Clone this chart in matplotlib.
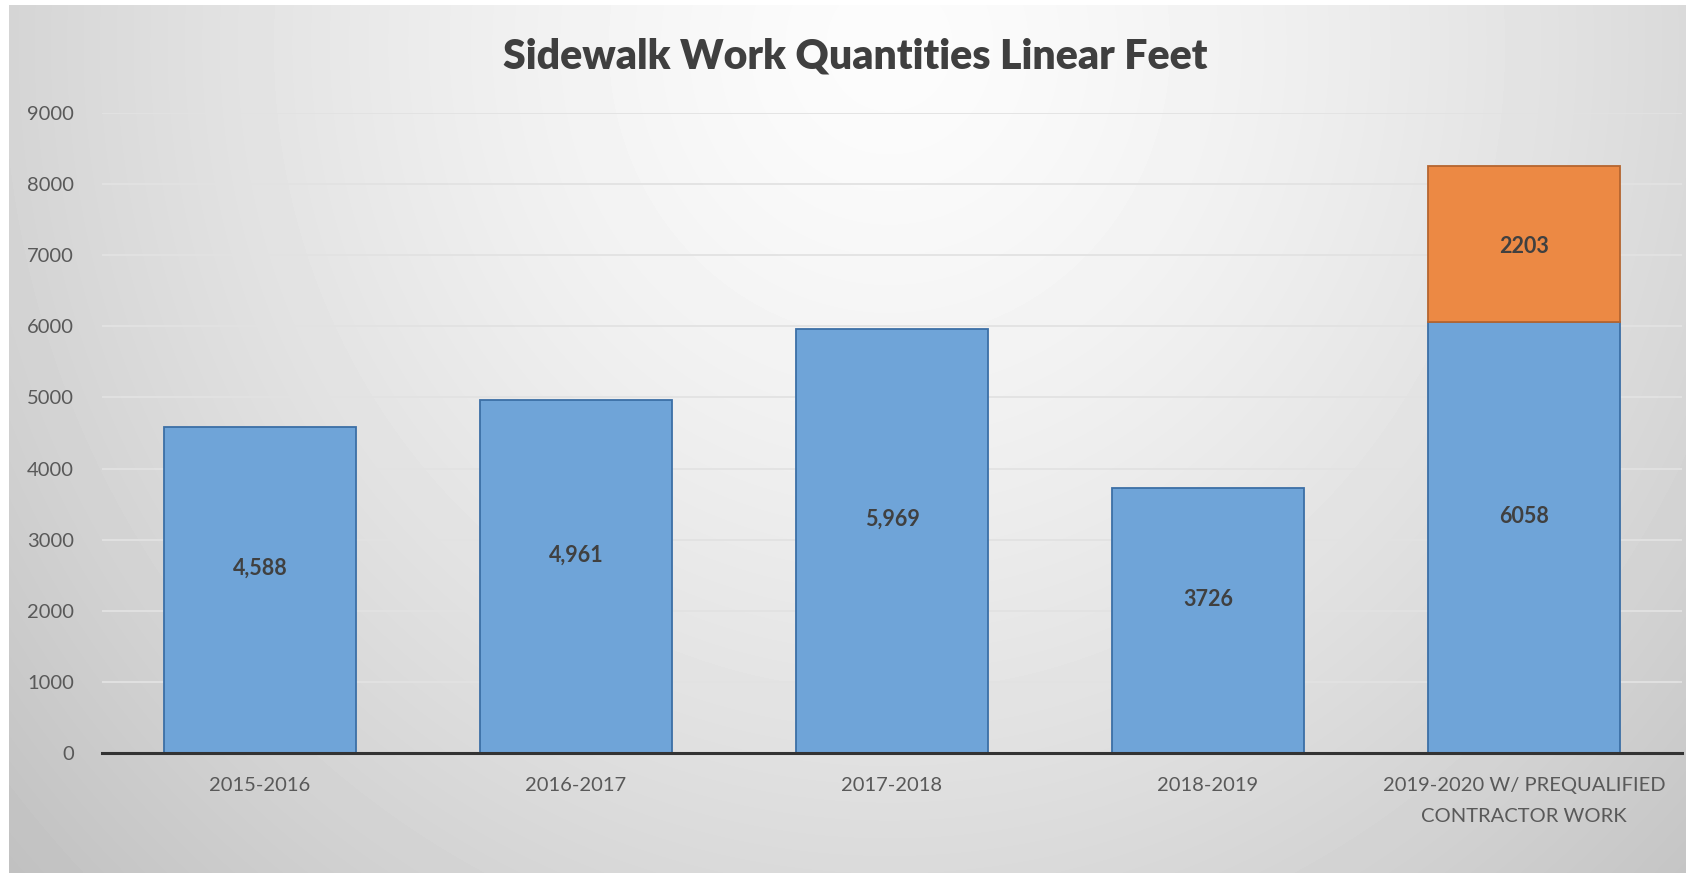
import numpy as np
import matplotlib.pyplot as plt

# Sidewalk quantities by fiscal year (linear feet)
years = ['2015-2016', '2016-2017', '2017-2018', '2018-2019',
         '2019-2020 W/ PREQUALIFIED\nCONTRACTOR WORK']
city_work = [4588, 4961, 5969, 3726, 6058]
city_labels = ['4,588', '4,961', '5,969', '3726', '6058']
contractor_work = [0, 0, 0, 0, 2203]
y_ticks = [0, 1000, 2000, 3000, 4000, 5000, 6000, 7000, 8000, 9000]

plt.rcParams['font.family'] = ['Lato', 'DejaVu Sans']

W, H = 1686, 873
fig = plt.figure(figsize=(W / 100, H / 100), dpi=100)
fig.patch.set_facecolor('white')

# Radial grey background, brightest near the title
bg = fig.add_axes([9 / W, 0, 1 - 9 / W, 1 - 5 / H])
yy, xx = np.mgrid[0:H - 5, 0:W - 9]
dx = (xx - 880) / 820.0
dy = (yy - 40) / 860.0
r = np.sqrt(dx ** 2 + dy ** 2) / np.sqrt(2)
shade = np.clip(252 - 58 * r ** 1.4, 0, 255) / 255.0
bg.imshow(shade, cmap='gray', vmin=0, vmax=1, aspect='auto', interpolation='bilinear')
bg.axis('off')

ax = fig.add_axes([102 / W, 1 - 753 / H, 1580 / W, (753 - 113) / H])
ax.patch.set_alpha(0)

x = np.arange(len(years))
width = 0.61
ax.bar(x, city_work, width, color='#6FA4D8', edgecolor='#3C6FA6', linewidth=1.3, zorder=3)

# contractor portion only exists for the last year
extra = np.array(contractor_work)
has_extra = extra > 0
ax.bar(x[has_extra], extra[has_extra], width, bottom=np.array(city_work)[has_extra],
       color='#EC8944', edgecolor='#B5652F', linewidth=1.3, zorder=3)

for i, v in enumerate(city_work):
    ax.text(x[i], v / 2 + 300, city_labels[i], ha='center', va='center',
            fontsize=15.5, fontweight='bold', color='#404040', zorder=4)
for i, v in enumerate(contractor_work):
    if v:
        ax.text(x[i], city_work[i] + v / 2 - 30, str(v), ha='center', va='center',
                fontsize=15.5, fontweight='bold', color='#404040', zorder=4)

ax.set_xlim(-0.5, len(years) - 0.5)
ax.set_ylim(0, 9000)
ax.set_yticks(y_ticks)
ax.set_xticks(x)
ax.set_xticklabels(years, linespacing=2.0)
ax.tick_params(axis='both', length=0, labelsize=14.5, labelcolor='#595959')
ax.tick_params(axis='y', pad=20)
ax.tick_params(axis='x', pad=17)
ax.grid(axis='y', color='#E2E2E2', linewidth=1.3, zorder=0)
ax.set_axisbelow(True)
for side in ['left', 'right', 'top']:
    ax.spines[side].set_visible(False)
ax.spines['bottom'].set_color('#333333')
ax.spines['bottom'].set_linewidth(2.2)
ax.spines['bottom'].set_zorder(5)

fig.text(855 / W, 1 - 56 / H, 'Sidewalk Work Quantities Linear Feet', ha='center',
         va='center', fontsize=29.5, fontweight='heavy', color='#3F3F3F')

fig.savefig('out.png', dpi=100)
